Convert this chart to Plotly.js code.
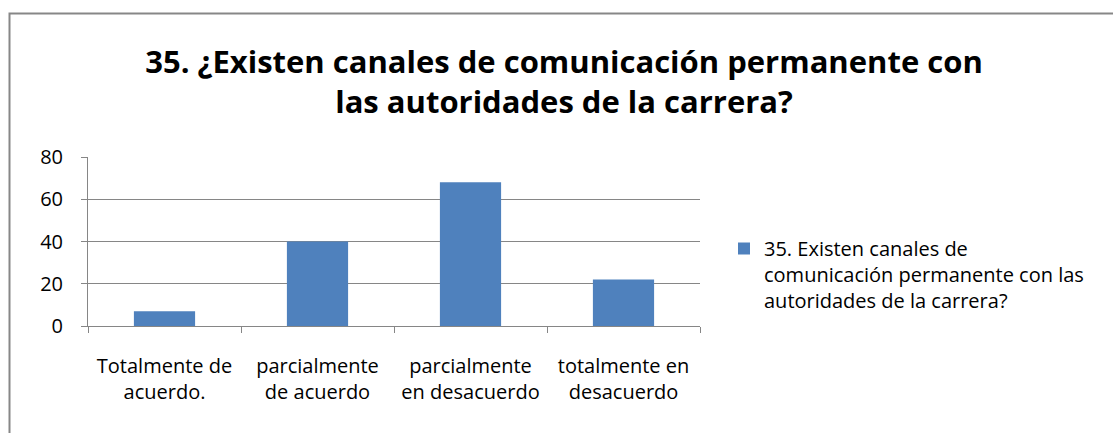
<!DOCTYPE html>
<html>
<head>
<meta charset="utf-8">
<script src="https://cdn.plot.ly/plotly-3.0.1.min.js"></script>
<style>html,body{margin:0;padding:0;background:#fff;}#chart{width:1113px;height:433px;}</style>
</head>
<body>
<div id="chart"></div>
<script>
var categories = ["Totalmente de<br>acuerdo.", "parcialmente<br>de acuerdo", "parcialmente<br>en desacuerdo", "totalmente en<br>desacuerdo"];
var values = [7, 40, 68, 22];
var seriesName = "35. Existen canales de<br>comunicación permanente con las<br>autoridades de la carrera?";
var titleText = "35. ¿Existen canales de comunicación permanente con<br>las autoridades de la carrera?";
var yTicks = [0, 20, 40, 60, 80];

var L = 88, R = 700, T = 157, B = 326, W = 1113, H = 433;
function px2x(p){ return (p - L) / (R - L); }
function px2y(p){ return (B - p) / (B - T); }

var trace = {
  type: "bar",
  x: categories,
  y: values,
  name: seriesName,
  marker: {color: "#4f81bd"},
  width: 0.4,
  showlegend: true,
  hoverinfo: "x+y"
};

var layout = {
  width: W, height: H,
  margin: {l: L, r: W - R, t: T, b: H - B, pad: 0},
  paper_bgcolor: "#ffffff",
  plot_bgcolor: "#ffffff",
  font: {family: "Open Sans, sans-serif", size: 20, color: "#000000"},
  title: {
    text: titleText,
    font: {family: "Open Sans, sans-serif", size: 31, color: "#000000", weight: "bold"},
    x: 564 / W, xanchor: "center",
    y: 1 - 73 / H, yanchor: "top"
  },
  xaxis: {
    type: "category",
    showgrid: false,
    showline: true, linecolor: "#868686", linewidth: 1,
    ticks: "outside", tickson: "boundaries", ticklen: 6, tickcolor: "#868686",
    tickfont: {size: 20, color: "#000000"},
    ticklabelstandoff: 22,
    fixedrange: true
  },
  yaxis: {
    range: [0, 80],
    tickvals: yTicks,
    ticktext: yTicks.map(String),
    showgrid: true, gridcolor: "#868686", gridwidth: 1,
    showline: true, linecolor: "#868686", linewidth: 1,
    ticks: "outside", ticklen: 6, tickcolor: "#868686",
    tickfont: {size: 20, color: "#000000"},
    ticklabelstandoff: 14,
    zeroline: false,
    fixedrange: true
  },
  legend: {
    x: px2x(724), xanchor: "left",
    y: px2y(229), yanchor: "top",
    font: {size: 20, color: "#000000"},
    bgcolor: "rgba(0,0,0,0)",
    itemwidth: 30,
    valign: "top"
  },
  shapes: [{
    type: "rect", xref: "paper", yref: "paper",
    x0: px2x(9.5), x1: px2x(1120),
    y0: px2y(440), y1: px2y(13.5),
    line: {color: "#878787", width: 2},
    fillcolor: "rgba(0,0,0,0)"
  }]
};

Plotly.newPlot("chart", [trace], layout, {displayModeBar: false, staticPlot: true});
</script>
</body>
</html>
